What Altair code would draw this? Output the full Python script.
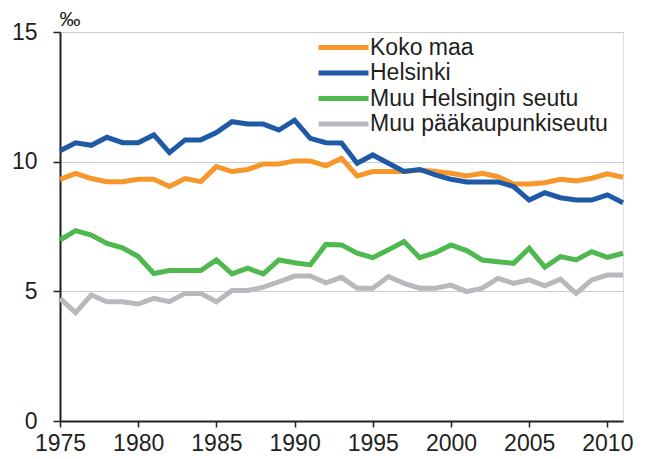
import altair as alt
import pandas as pd

years = list(range(1975, 2012))

koko_maa = [9.32, 9.55, 9.35, 9.23, 9.23, 9.32, 9.32, 9.04, 9.35, 9.23,
            9.81, 9.62, 9.70, 9.91, 9.91, 10.03, 10.03, 9.84, 10.13, 9.45,
            9.62, 9.62, 9.62, 9.68, 9.62, 9.55, 9.45, 9.55, 9.42, 9.14,
            9.14, 9.19, 9.32, 9.26, 9.36, 9.53, 9.40]
helsinki = [10.42, 10.73, 10.63, 10.94, 10.73, 10.73, 11.03, 10.35, 10.84, 10.84,
            11.12, 11.54, 11.45, 11.45, 11.22, 11.60, 10.90, 10.73, 10.72, 9.94,
            10.26, 9.94, 9.62, 9.70, 9.49, 9.32, 9.22, 9.22, 9.22, 9.04,
            8.52, 8.80, 8.61, 8.52, 8.52, 8.72, 8.42]
muu_helsingin = [6.98, 7.34, 7.17, 6.85, 6.68, 6.34, 5.69, 5.80, 5.80, 5.80,
                 6.21, 5.67, 5.89, 5.67, 6.21, 6.10, 6.02, 6.81, 6.79, 6.47,
                 6.30, 6.60, 6.92, 6.30, 6.49, 6.79, 6.57, 6.21, 6.14, 6.08,
                 6.66, 5.93, 6.34, 6.21, 6.53, 6.31, 6.47]
muu_paakaupunki = [4.73, 4.18, 4.86, 4.60, 4.60, 4.51, 4.73, 4.60, 4.92, 4.92,
                   4.60, 5.03, 5.03, 5.16, 5.37, 5.59, 5.59, 5.33, 5.54, 5.12,
                   5.12, 5.57, 5.31, 5.12, 5.12, 5.24, 4.99, 5.12, 5.50, 5.31,
                   5.44, 5.21, 5.47, 4.92, 5.44, 5.63, 5.63]

series_names = ["Koko maa", "Helsinki", "Muu Helsingin seutu", "Muu pääkaupunkiseutu"]
series_values = [koko_maa, helsinki, muu_helsingin, muu_paakaupunki]
series_colors = ["#F7962B", "#1F5AA6", "#4FB84E", "#B8B9BC"]
draw_order = [2, 3, 1, 0]  # blue drawn last (on top)

x_ticks = [1975, 1980, 1985, 1990, 1995, 2000, 2005, 2010]
y_ticks = [0, 5, 10, 15]

rows = []
for name, vals, o in zip(series_names, series_values, draw_order):
    for yr, v in zip(years, vals):
        rows.append({"Vuosi": yr, "Arvo": v, "Sarja": name, "o": o})
df = pd.DataFrame(rows)

FONT = "Liberation Sans"
TXT = "#231F20"

chart = alt.Chart(df).mark_line(strokeWidth=5, strokeJoin="miter", strokeCap="butt").encode(
    x=alt.X("Vuosi:Q",
            scale=alt.Scale(domain=[1975, 2011], nice=False, zero=False),
            axis=alt.Axis(values=x_ticks, format="d", title=None, grid=False,
                          tickSize=6, tickColor=TXT, tickWidth=1.5,
                          domainColor=TXT, domainWidth=2,
                          labelFontSize=23, labelColor=TXT, labelFont=FONT,
                          labelPadding=5, labelFlush=False)),
    y=alt.Y("Arvo:Q",
            scale=alt.Scale(domain=[0, 15], nice=False),
            axis=alt.Axis(values=y_ticks, title="‰", titleAngle=0, titleX=-1, titleY=-7,
                          titleAlign="left", titleBaseline="alphabetic",
                          titleFontSize=21, titleFontWeight="normal", titleColor=TXT,
                          titleFont=FONT,
                          grid=True, gridColor="#CBCBCB", gridWidth=1.2,
                          tickSize=7, tickColor=TXT, tickWidth=1.5,
                          domainColor=TXT, domainWidth=2,
                          labelFontSize=23, labelColor=TXT, labelFont=FONT,
                          labelPadding=16)),
    color=alt.Color("Sarja:N",
                    scale=alt.Scale(domain=series_names, range=series_colors),
                    legend=alt.Legend(orient="none", legendX=272, legendY=4, title=None,
                                      symbolType="M-5,0H5", symbolSize=100,
                                      symbolStrokeWidth=5, symbolOffset=0,
                                      labelFontSize=23, labelFont=FONT, labelColor=TXT,
                                      labelOffset=15, labelLimit=0, rowPadding=1.5,
                                      padding=0)),
    order=alt.Order("o:Q"),
).properties(
    width=563, height=389,
    autosize=alt.AutoSizeParams(type="none"),
    padding={"left": 52, "top": 24, "right": 18, "bottom": 36},
).configure_view(
    stroke=TXT, strokeWidth=1.5
).configure(
    background="white"
)

chart.save("out.html", embed_options={"renderer": "svg", "actions": False})
